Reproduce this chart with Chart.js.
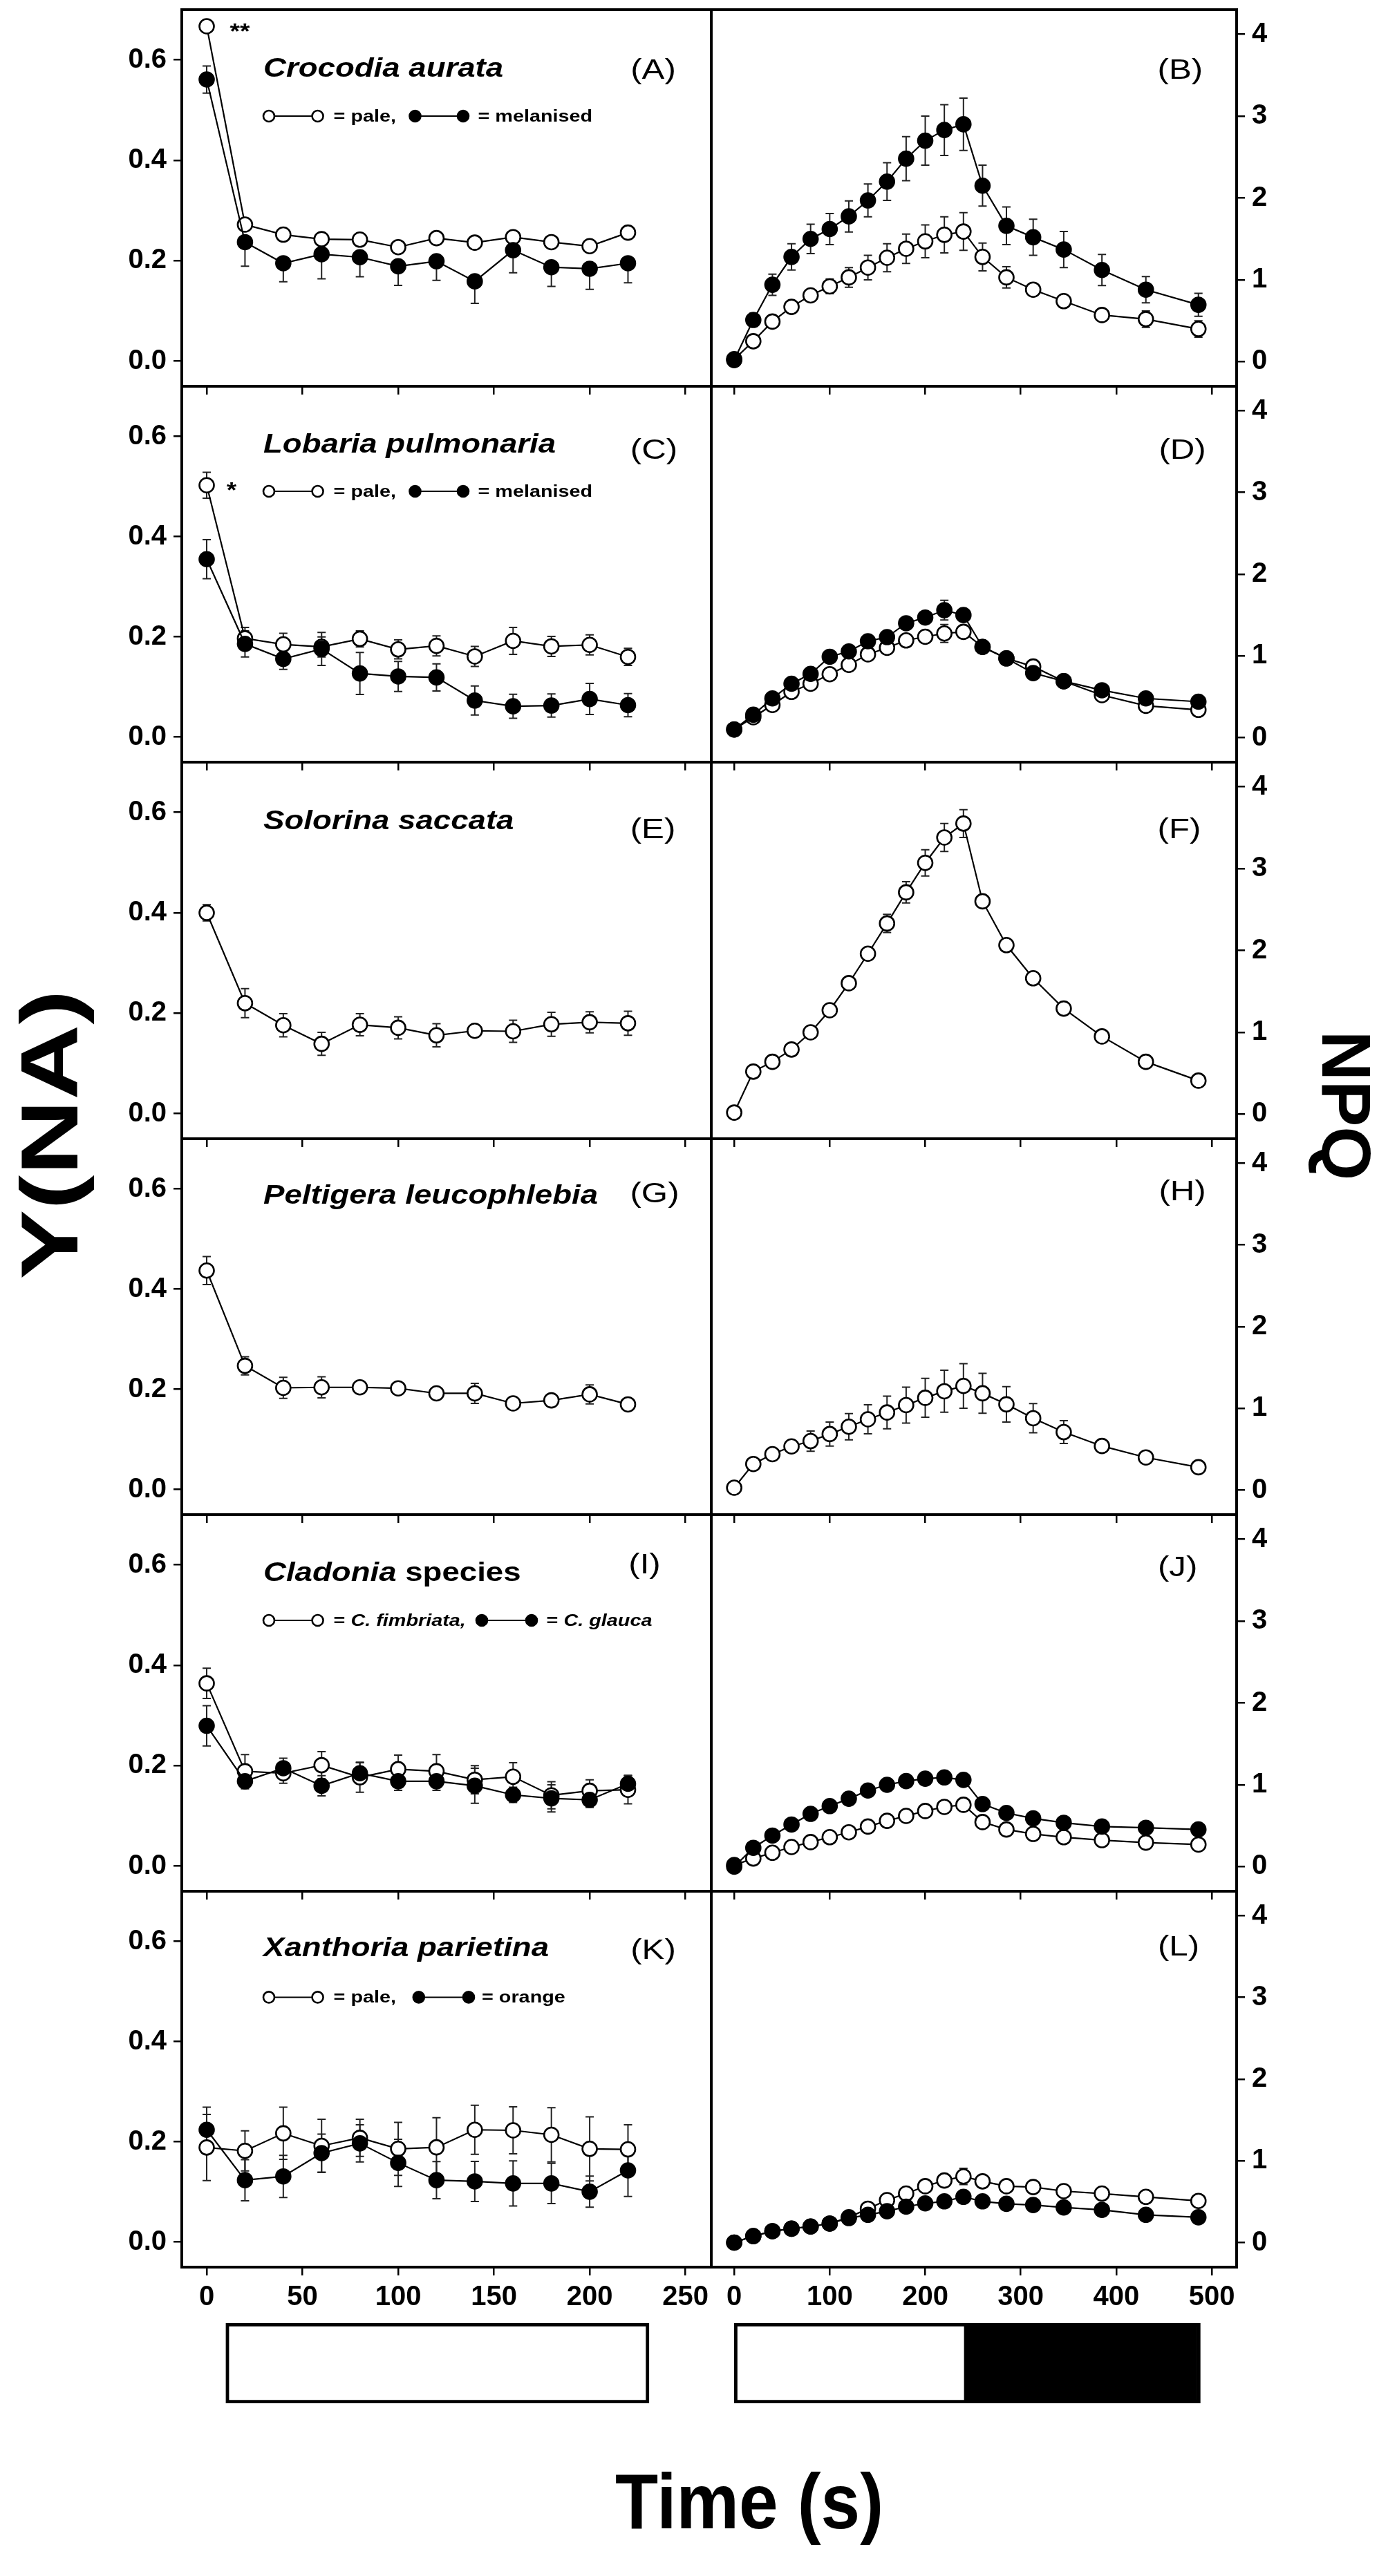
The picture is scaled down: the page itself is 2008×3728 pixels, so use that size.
<!DOCTYPE html>
<html>
<head>
<meta charset="utf-8">
<script src="https://cdn.jsdelivr.net/npm/chart.js"></script>
<style>
html, body { margin: 0; padding: 0; background: #fff; }
#page { position: relative; width: 2008px; height: 3728px; overflow: hidden; font-family: "Liberation Sans", Arial, Helvetica, sans-serif; }
#page canvas { position: absolute; }
.big { position: absolute; font-weight: bold; color: #000; white-space: nowrap; line-height: 1; }
#ylab { left: 72px; top: 1642px; font-size: 116px; transform: translate(-50%, -50%) rotate(-90deg) scaleX(1.3); }
#npqlab { left: 1948px; top: 1600px; font-size: 100px; transform: translate(-50%, -50%) rotate(90deg); }
#xlab { left: 1084px; top: 3620px; font-size: 113px; transform: translate(-50%, -50%) scaleX(0.9); }
</style>
</head>
<body>
<div id="page">
  <div class="big" id="ylab">Y(NA)</div>
  <div class="big" id="npqlab">NPQ</div>
  <div class="big" id="xlab">Time (s)</div>
</div>
<script>
// time points (s)
var timeY = [0, 20, 40, 60, 80, 100, 120, 140, 160, 180, 200, 220];
var timeNPQ = [0, 20, 40, 60, 80, 100, 120, 140, 160, 180, 200, 220, 240, 260, 285, 313, 345, 385, 431, 486];

// tick labels
var yTicks = [0, 0.2, 0.4, 0.6];
var npqTicks = [0, 1, 2, 3, 4];
var timeTicksY = [0, 50, 100, 150, 200, 250];
var timeTicksNPQ = [0, 100, 200, 300, 400, 500];

// light regime under the columns (s)
var lightY = [10, 231];
var lightNPQ = [0, 244];
var darkNPQ = [244, 488];

// (A) Crocodia aurata, Y(NA)
var yA_pale = [0.667, 0.272, 0.252, 0.243, 0.242, 0.227, 0.245, 0.236, 0.247, 0.237, 0.229, 0.256];
var yA_pale_err = [0.01, 0.012, 0.01, 0.01, 0.01, 0.01, 0.01, 0.01, 0.01, 0.01, 0.01, 0.01];
var yA_mel = [0.561, 0.237, 0.195, 0.213, 0.207, 0.189, 0.199, 0.159, 0.221, 0.187, 0.184, 0.195];
var yA_mel_err = [[0.027, 0.027], 0.048, 0.037, 0.049, 0.039, 0.038, 0.038, 0.044, 0.045, 0.038, 0.041, 0.039];
// (B) Crocodia aurata, NPQ
var npqB_pale = [0.03, 0.25, 0.49, 0.67, 0.81, 0.92, 1.03, 1.15, 1.27, 1.38, 1.47, 1.55, 1.59, 1.28, 1.03, 0.88, 0.74, 0.57, 0.52, 0.40];
var npqB_pale_err = [0.02, 0.04, 0.05, 0.05, 0.06, 0.09, 0.12, 0.15, 0.17, 0.18, 0.2, 0.22, 0.23, 0.17, 0.13, 0.05, 0.05, 0.05, 0.1, 0.1];
var npqB_mel = [0.02, 0.51, 0.94, 1.28, 1.50, 1.62, 1.775, 1.97, 2.20, 2.48, 2.70, 2.83, 2.90, 2.15, 1.66, 1.52, 1.37, 1.12, 0.88, 0.695];
var npqB_mel_err = [0.02, 0.08, 0.13, 0.16, 0.18, 0.19, 0.19, 0.2, 0.23, 0.27, 0.3, 0.31, 0.32, 0.25, 0.23, 0.22, 0.22, 0.19, 0.16, 0.14];

// (C) Lobaria pulmonaria, Y(NA)
var yC_pale = [0.5025, 0.197, 0.185, 0.18, 0.196, 0.175, 0.182, 0.161, 0.192, 0.181, 0.184, 0.160];
var yC_pale_err = [0.026, 0.022, 0.022, 0.02, 0.016, 0.019, 0.02, 0.02, 0.027, 0.02, 0.02, 0.017];
var yC_mel = [0.355, 0.186, 0.156, 0.176, 0.127, 0.121, 0.119, 0.073, 0.0615, 0.063, 0.076, 0.0637];
var yC_mel_err = [0.039, 0.026, 0.021, 0.033, 0.042, 0.03, 0.027, 0.029, 0.024, 0.023, 0.031, 0.023];
// (D) Lobaria pulmonaria, NPQ
var npqD_pale = [0.10, 0.25, 0.40, 0.56, 0.66, 0.776, 0.89, 1.02, 1.10, 1.19, 1.235, 1.275, 1.295, 1.11, 0.97, 0.87, 0.69, 0.52, 0.39, 0.34];
var npqD_pale_err = [0.02, 0.03, 0.03, 0.03, 0.04, 0.04, 0.04, 0.05, 0.05, 0.05, 0.06, 0.11, 0.06, 0.04, 0.04, 0.03, 0.03, 0.03, 0.03, 0.03];
var npqD_mel = [0.10, 0.28, 0.48, 0.66, 0.78, 0.99, 1.055, 1.18, 1.23, 1.40, 1.47, 1.56, 1.50, 1.11, 0.97, 0.79, 0.69, 0.58, 0.48, 0.44];
var npqD_mel_err = [0.02, 0.03, 0.03, 0.04, 0.04, 0.04, 0.04, 0.05, 0.05, 0.05, 0.06, 0.12, 0.06, 0.04, 0.04, 0.03, 0.03, 0.03, 0.03, 0.03];

// (E) Solorina saccata, Y(NA)
var yE = [0.40, 0.22, 0.176, 0.139, 0.177, 0.171, 0.156, 0.165, 0.164, 0.178, 0.182, 0.18];
var yE_err = [0.016, 0.029, 0.023, 0.023, 0.022, 0.022, 0.023, 0.012, 0.022, 0.024, 0.021, 0.024];
// (F) Solorina saccata, NPQ
var npqF = [0.02, 0.52, 0.64, 0.79, 1.0, 1.27, 1.60, 1.96, 2.33, 2.71, 3.07, 3.38, 3.55, 2.60, 2.065, 1.66, 1.29, 0.95, 0.64, 0.41];
var npqF_err = [0.02, 0.03, 0.03, 0.03, 0.03, 0.04, 0.04, 0.05, 0.11, 0.13, 0.16, 0.17, 0.17, 0.05, 0.04, 0.04, 0.04, 0.03, 0.03, 0.03];

// (G) Peltigera leucophlebia, Y(NA)
var yG = [0.437, 0.247, 0.203, 0.204, 0.204, 0.202, 0.192, 0.192, 0.172, 0.178, 0.19, 0.17];
var yG_err = [0.028, 0.018, 0.021, 0.021, 0.008, 0.008, 0.008, 0.02, 0.008, 0.008, 0.019, 0.008];
// (H) Peltigera leucophlebia, NPQ
var npqH = [0.03, 0.32, 0.44, 0.535, 0.60, 0.686, 0.776, 0.867, 0.95, 1.04, 1.13, 1.21, 1.275, 1.185, 1.05, 0.88, 0.71, 0.54, 0.40, 0.28];
var npqH_err = [0.02, 0.03, 0.03, 0.03, 0.124, 0.147, 0.16, 0.177, 0.2, 0.22, 0.238, 0.257, 0.272, 0.245, 0.216, 0.179, 0.14, 0.04, 0.03, 0.03];

// (I) Cladonia species, Y(NA)
var yI_fim = [0.364, 0.189, 0.185, 0.201, 0.177, 0.193, 0.189, 0.172, 0.178, 0.141, 0.15, 0.152];
var yI_fim_err = [0.03, 0.033, 0.02, 0.027, 0.03, 0.028, 0.033, 0.028, 0.028, 0.027, 0.022, 0.028];
var yI_gla = [0.2795, 0.169, 0.195, 0.16, 0.185, 0.169, 0.169, 0.16, 0.142, 0.135, 0.132, 0.164];
var yI_gla_err = [0.04, 0.015, 0.02, 0.02, 0.021, 0.018, 0.018, 0.035, 0.015, 0.027, 0.015, 0.017];
// (J) Cladonia species, NPQ
var npqJ_fim = [0.02, 0.10, 0.17, 0.24, 0.30, 0.36, 0.42, 0.49, 0.56, 0.62, 0.68, 0.73, 0.756, 0.545, 0.454, 0.40, 0.36, 0.324, 0.294, 0.27];
var npqJ_fim_err = [0.02, 0.02, 0.02, 0.02, 0.03, 0.03, 0.03, 0.03, 0.03, 0.04, 0.04, 0.04, 0.04, 0.03, 0.03, 0.03, 0.02, 0.02, 0.02, 0.02];
var npqJ_gla = [0.0, 0.23, 0.38, 0.515, 0.645, 0.74, 0.83, 0.93, 1.0, 1.045, 1.075, 1.09, 1.06, 0.765, 0.656, 0.59, 0.536, 0.49, 0.475, 0.454];
var npqJ_gla_err = [0.02, 0.03, 0.03, 0.04, 0.04, 0.04, 0.05, 0.05, 0.05, 0.05, 0.06, 0.06, 0.06, 0.05, 0.04, 0.04, 0.04, 0.03, 0.03, 0.03];

// (K) Xanthoria parietina, Y(NA)
var yK_pale = [0.1887, 0.182, 0.217, 0.192, 0.208, 0.186, 0.189, 0.224, 0.223, 0.214, 0.186, 0.185];
var yK_pale_err = [0.066, 0.04, 0.052, 0.053, 0.037, 0.053, 0.059, 0.049, 0.047, 0.054, 0.064, 0.049];
var yK_or = [0.224, 0.1235, 0.131, 0.1775, 0.197, 0.158, 0.1235, 0.121, 0.117, 0.117, 0.1005, 0.143];
var yK_or_err = [0.045, 0.041, 0.042, 0.038, 0.037, 0.047, 0.037, 0.04, 0.045, 0.04, 0.031, 0.052];
// (L) Xanthoria parietina, NPQ
var npqL_pale = [0.0, 0.08, 0.14, 0.17, 0.197, 0.233, 0.31, 0.415, 0.52, 0.60, 0.69, 0.76, 0.81, 0.75, 0.69, 0.68, 0.63, 0.60, 0.56, 0.51];
var npqL_pale_err = [0.02, 0.02, 0.02, 0.02, 0.03, 0.03, 0.03, 0.04, 0.04, 0.05, 0.05, 0.06, 0.10, 0.06, 0.05, 0.04, 0.04, 0.04, 0.04, 0.04];
var npqL_or = [0.0, 0.08, 0.14, 0.17, 0.197, 0.233, 0.30, 0.34, 0.384, 0.44, 0.48, 0.505, 0.56, 0.505, 0.475, 0.46, 0.43, 0.40, 0.34, 0.31];
var npqL_or_err = [0.02, 0.02, 0.02, 0.02, 0.03, 0.03, 0.03, 0.03, 0.03, 0.04, 0.04, 0.04, 0.04, 0.04, 0.03, 0.03, 0.03, 0.03, 0.03, 0.03];

// ---- layout (page pixels) ----
var ROW_TOP = 14, ROW_H = 544.5, PAD = 6;
var L0 = 263, L1 = 1029, R1 = 1789, RAXIS = 110;
var BAR_TOP = 3362, BAR_H = 116;
var SX = 1.2; // the original lettering is a little wider than Liberation Sans
var FAMILY = '"Liberation Sans", Arial, Helvetica, sans-serif';
var TICKFONT = { family: FAMILY, size: 40, weight: 'bold' };
var page = document.getElementById('page');

Chart.defaults.font.family = FAMILY;

function addCanvas(left, top, w, h) {
  var c = document.createElement('canvas');
  c.width = w; c.height = h;
  c.style.left = left + 'px'; c.style.top = top + 'px';
  c.style.width = w + 'px'; c.style.height = h + 'px';
  page.appendChild(c);
  return c;
}

function series(xs, ys, err, filled, dir) {
  return {
    data: xs.map(function (x, i) { return { x: x, y: ys[i] }; }),
    err: err,
    errDir: dir || 'both',
    showLine: true,
    borderColor: '#000',
    borderWidth: 2.2,
    pointRadius: 10.5,
    pointHoverRadius: 10.5,
    pointBorderWidth: 2.6,
    pointBackgroundColor: filled ? '#000' : '#fff',
    pointBorderColor: '#000',
    clip: false
  };
}

var errorBars = {
  id: 'errorBars',
  beforeDatasetsDraw: function (chart) {
    var ctx = chart.ctx, xs = chart.scales.x, ys = chart.scales.y;
    ctx.save();
    ctx.strokeStyle = '#222';
    ctx.lineWidth = 2;
    chart.data.datasets.forEach(function (ds) {
      if (!ds.err) return;
      ds.data.forEach(function (p, i) {
        var e = ds.err[i];
        if (e == null) return;
        var dn = Array.isArray(e) ? e[0] : (ds.errDir === 'up' ? 0 : e);
        var up = Array.isArray(e) ? e[1] : (ds.errDir === 'down' ? 0 : e);
        var px = xs.getPixelForValue(p.x);
        var y0 = ys.getPixelForValue(p.y - dn), y1 = ys.getPixelForValue(p.y + up);
        ctx.beginPath();
        ctx.moveTo(px, y0); ctx.lineTo(px, y1);
        if (dn) { ctx.moveTo(px - 6, y0); ctx.lineTo(px + 6, y0); }
        if (up) { ctx.moveTo(px - 6, y1); ctx.lineTo(px + 6, y1); }
        ctx.stroke();
      });
    });
    ctx.restore();
  }
};

var frame = {
  id: 'frame',
  afterDraw: function (chart) {
    var a = chart.chartArea, ctx = chart.ctx;
    ctx.save();
    ctx.strokeStyle = '#000';
    ctx.lineWidth = 4;
    ctx.strokeRect(a.left, a.top, a.right - a.left, a.bottom - a.top);
    ctx.restore();
  }
};

function fontOf(size, seg, bold) {
  return (seg.i ? 'italic ' : '') + (bold ? 'bold ' : '') + size + 'px ' + FAMILY;
}

// draws a run of text segments, stretched horizontally by SX
function drawRun(ctx, segs, x, y, size, bold, align) {
  ctx.save();
  ctx.translate(x, y);
  ctx.scale(SX, 1);
  ctx.textBaseline = 'alphabetic';
  ctx.textAlign = 'left';
  var total = 0;
  segs.forEach(function (s) { ctx.font = fontOf(size, s, bold); s._w = ctx.measureText(s.t).width; total += s._w; });
  var cx = align === 'center' ? -total / 2 : 0;
  segs.forEach(function (s) { ctx.font = fontOf(size, s, bold); ctx.fillText(s.t, cx, 0); cx += s._w; });
  ctx.restore();
}

function legendMark(ctx, x1, x2, y, filled) {
  ctx.save();
  ctx.strokeStyle = '#000';
  ctx.lineWidth = 2;
  ctx.beginPath(); ctx.moveTo(x1, y); ctx.lineTo(x2, y); ctx.stroke();
  ctx.lineWidth = 2.6;
  ctx.fillStyle = filled ? '#000' : '#fff';
  [x1, x2].forEach(function (x) {
    ctx.beginPath(); ctx.arc(x, y, 8, 0, Math.PI * 2); ctx.fill(); ctx.stroke();
  });
  ctx.restore();
}

var panelText = {
  id: 'panelText',
  afterDraw: function (chart) {
    var t = chart.canvas.panelText;
    if (!t) return;
    var ctx = chart.ctx, a = chart.chartArea;
    ctx.save();
    ctx.fillStyle = '#000';
    if (t.title) drawRun(ctx, t.title, a.left + 118, a.top + t.titleY, 38, true, 'left');
    drawRun(ctx, [{ t: t.label }], a.left + t.labelX, a.top + t.labelY + 10.7, 41, false, 'center');
    if (t.legend) {
      t.legend.items.forEach(function (it) {
        legendMark(ctx, a.left + it.x1, a.left + it.x2, a.top + t.legend.y, it.filled);
        drawRun(ctx, it.text, a.left + it.tx, a.top + t.legend.y + 8, 24, true, 'left');
      });
    }
    if (t.stars) {
      t.stars.forEach(function (s) { drawRun(ctx, [{ t: s.t }], a.left + s.x, a.top + s.y, 31, true, 'center'); });
    }
    ctx.restore();
  }
};

function panel(col, row, datasets, text) {
  var left = col === 0;
  var last = row === 5;
  var top = Math.round(ROW_TOP + row * ROW_H);
  var bot = Math.round(ROW_TOP + (row + 1) * ROW_H);
  var xh = last ? 80 : 14;
  var cx = left ? 0 : L1 - PAD;
  var cw = left ? L1 + PAD : PAD + (R1 - L1) + RAXIS;
  var ch = PAD + (bot - top) + xh;
  var cv = addCanvas(cx, top - PAD, cw, ch);
  cv.panelText = text;
  var zeroPad = function (s) { s.paddingLeft = 0; s.paddingRight = 0; s.paddingTop = 0; s.paddingBottom = 0; };
  return new Chart(cv, {
    type: 'scatter',
    data: { datasets: datasets },
    options: {
      responsive: false,
      animation: false,
      devicePixelRatio: 1,
      events: [],
      layout: { autoPadding: false, padding: { left: left ? 0 : PAD, right: left ? PAD : 0, top: PAD, bottom: 0 } },
      plugins: { legend: { display: false }, tooltip: { enabled: false } },
      scales: {
        x: {
          type: 'linear',
          position: 'bottom',
          min: left ? -13 : -24,
          max: left ? 263.5 : 526,
          afterBuildTicks: function (s) { s.ticks = (left ? timeTicksY : timeTicksNPQ).map(function (v) { return { value: v }; }); },
          afterFit: function (s) { s.height = xh; zeroPad(s); },
          grid: { drawOnChartArea: false, drawTicks: true, tickLength: 12, color: '#000', lineWidth: 2.5 },
          border: { display: false },
          ticks: { display: last, font: TICKFONT, color: '#000', padding: 8, maxRotation: 0, autoSkip: false }
        },
        y: {
          type: 'linear',
          position: left ? 'left' : 'right',
          min: left ? -0.05 : -0.3,
          max: left ? 0.7 : 4.3,
          afterBuildTicks: function (s) { s.ticks = (left ? yTicks : npqTicks).map(function (v) { return { value: v }; }); },
          afterFit: function (s) { s.width = left ? L0 : RAXIS; zeroPad(s); },
          grid: { drawOnChartArea: false, drawTicks: true, tickLength: 12, color: '#000', lineWidth: 2.5 },
          border: { display: false },
          ticks: {
            font: TICKFONT, color: '#000', padding: 10, autoSkip: false,
            callback: function (v) { return left ? v.toFixed(1) : String(v); }
          }
        }
      }
    },
    plugins: [errorBars, frame, panelText]
  });
}

function lightBar(col, ranges, colors) {
  var left = col === 0;
  var x0 = left ? L0 : L1, x1 = left ? L1 : R1;
  var cv = addCanvas(x0, BAR_TOP, x1 - x0, BAR_H);
  return new Chart(cv, {
    type: 'bar',
    data: {
      labels: ['light'],
      datasets: ranges.map(function (r, k) {
        return { data: [r], backgroundColor: colors[k], borderColor: '#000', borderWidth: 5, borderSkipped: false, barPercentage: 1, categoryPercentage: 1, grouped: false };
      })
    },
    options: {
      indexAxis: 'y',
      responsive: false,
      animation: false,
      devicePixelRatio: 1,
      events: [],
      layout: { autoPadding: false, padding: 0 },
      plugins: { legend: { display: false }, tooltip: { enabled: false } },
      scales: {
        x: { type: 'linear', display: false, min: left ? -13 : -24, max: left ? 263.5 : 526 },
        y: { display: false }
      }
    }
  });
}

var pale = [{ t: '= pale,' }];

// row 1
panel(0, 0, [series(timeY, yA_mel, yA_mel_err, true, 'down'), series(timeY, yA_pale, yA_pale_err, false)], {
  title: [{ t: 'Crocodia aurata', i: true }], titleY: 97, label: '(A)', labelX: 682, labelY: 89.6,
  legend: { y: 154, items: [
    { x1: 126, x2: 196.6, filled: false, tx: 219.6, text: pale },
    { x1: 337.5, x2: 407, filled: true, tx: 428.5, text: [{ t: '= melanised' }] }
  ] },
  stars: [{ t: '**', x: 84, y: 42 }]
});
panel(1, 0, [series(timeNPQ, npqB_mel, npqB_mel_err, true), series(timeNPQ, npqB_pale, npqB_pale_err, false)], {
  label: '(B)', labelX: 678.4, labelY: 89.6
});

// row 2
panel(0, 1, [series(timeY, yC_mel, yC_mel_err, true), series(timeY, yC_pale, yC_pale_err, false)], {
  title: [{ t: 'Lobaria pulmonaria', i: true }], titleY: 96, label: '(C)', labelX: 683, labelY: 94.6,
  legend: { y: 152, items: [
    { x1: 126, x2: 196.6, filled: false, tx: 219.6, text: pale },
    { x1: 337.5, x2: 407, filled: true, tx: 428.5, text: [{ t: '= melanised' }] }
  ] },
  stars: [{ t: '*', x: 72, y: 161 }]
});
panel(1, 1, [series(timeNPQ, npqD_mel, npqD_mel_err, true), series(timeNPQ, npqD_pale, npqD_pale_err, false)], {
  label: '(D)', labelX: 681.6, labelY: 93.9
});

// row 3
panel(0, 2, [series(timeY, yE, yE_err, false)], {
  title: [{ t: 'Solorina saccata', i: true }], titleY: 97.4, label: '(E)', labelX: 681.5, labelY: 99
});
panel(1, 2, [series(timeNPQ, npqF, npqF_err, false)], {
  label: '(F)', labelX: 677, labelY: 99
});

// row 4
panel(0, 3, [series(timeY, yG, yG_err, false)], {
  title: [{ t: 'Peltigera leucophlebia', i: true }], titleY: 94, label: '(G)', labelX: 684, labelY: 81.6
});
panel(1, 3, [series(timeNPQ, npqH, npqH_err, false)], {
  label: '(H)', labelX: 681.6, labelY: 78
});

// row 5
panel(0, 4, [series(timeY, yI_gla, yI_gla_err, true), series(timeY, yI_fim, yI_fim_err, false)], {
  title: [{ t: 'Cladonia', i: true }, { t: ' species' }], titleY: 95.9, label: '(I)', labelX: 669.5, labelY: 74.4,
  legend: { y: 153, items: [
    { x1: 126, x2: 196.6, filled: false, tx: 219.6, text: [{ t: '= ' }, { t: 'C. fimbriata,', i: true }] },
    { x1: 434, x2: 506, filled: true, tx: 527.6, text: [{ t: '= ' }, { t: 'C. glauca', i: true }] }
  ] }
});
panel(1, 4, [series(timeNPQ, npqJ_gla, npqJ_gla_err, true), series(timeNPQ, npqJ_fim, npqJ_fim_err, false)], {
  label: '(J)', labelX: 674.6, labelY: 78
});

// row 6
panel(0, 5, [series(timeY, yK_or, yK_or_err, true), series(timeY, yK_pale, yK_pale_err, false)], {
  title: [{ t: 'Xanthoria parietina', i: true }], titleY: 94.4, label: '(K)', labelX: 682, labelY: 87.3,
  legend: { y: 153.4, items: [
    { x1: 126, x2: 196.6, filled: false, tx: 219.6, text: pale },
    { x1: 342.8, x2: 415, filled: true, tx: 434, text: [{ t: '= orange' }] }
  ] }
});
panel(1, 5, [series(timeNPQ, npqL_or, npqL_or_err, true), series(timeNPQ, npqL_pale, npqL_pale_err, false)], {
  label: '(L)', labelX: 676, labelY: 81.9
});

// light regime bars
lightBar(0, [lightY], ['#fff']);
lightBar(1, [lightNPQ, darkNPQ], ['#fff', '#000']);
</script>
</body>
</html>
